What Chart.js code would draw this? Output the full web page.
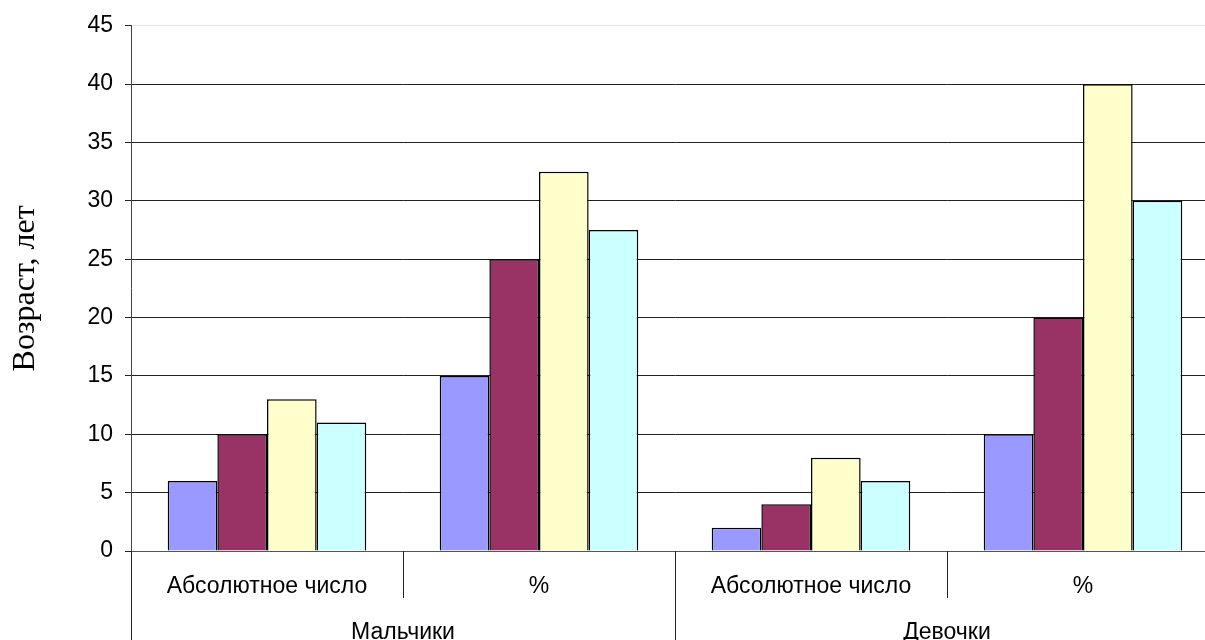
<!DOCTYPE html>
<html lang="ru">
<head>
<meta charset="utf-8">
<title>Возраст, лет</title>
<script src="https://cdn.jsdelivr.net/npm/chart.js@4.4.1/dist/chart.umd.min.js"></script>
<style>
  html, body { margin: 0; padding: 0; background: #fff; overflow: hidden; }
  #wrap { position: relative; width: 1219px; height: 640px; }
</style>
</head>
<body>
<div id="wrap"><canvas id="chart"></canvas></div>
<script>
// Inner categories and outer groups of the two-level x axis
const categories = ['Абсолютное число', '%', 'Абсолютное число', '%'];
const groups = ['Мальчики', 'Девочки'];

// Four series, one bar per category each
const series1 = [6, 15, 2, 10];
const series2 = [10, 25, 4, 20];
const series3 = [13, 32.5, 8, 40];
const series4 = [11, 27.5, 6, 30];

const yTicks = [0, 5, 10, 15, 20, 25, 30, 35, 40, 45];
const yTitle = 'Возраст, лет';

const sansFont = "'Liberation Sans', Arial, sans-serif";
const serifFont = "'Liberation Serif', 'Times New Roman', serif";

// Separator lines of the two-level category axis, placed from the x scale
const categorySeparators = {
  id: 'categorySeparators',
  afterDraw(chart) {
    const x = chart.scales.x;
    const ctx = chart.ctx;
    const n = categories.length;
    const edges = [];
    for (let i = 0; i <= n; i++) {
      if (i === 0) edges.push(x.left);
      else if (i === n) edges.push(x.right);
      else edges.push((x.getPixelForValue(i - 1) + x.getPixelForValue(i)) / 2);
    }
    const perGroup = n / groups.length;
    const top = x.top;
    const innerBottom = chart.scales.x.bottom;
    const outerBottom = chart.scales.x2.bottom;
    ctx.save();
    ctx.lineWidth = 1;
    ctx.strokeStyle = '#222';
    edges.forEach((px, i) => {
      const xx = Math.round(px) + 0.5;
      ctx.beginPath();
      ctx.moveTo(xx, top);
      ctx.lineTo(xx, i % perGroup === 0 ? outerBottom : innerBottom);
      ctx.stroke();
    });
    ctx.restore();
  }
};

new Chart(document.getElementById('chart'), {
  type: 'bar',
  data: {
    labels: categories,
    datasets: [
      { data: series1, backgroundColor: '#9999FF' },
      { data: series2, backgroundColor: '#993366' },
      { data: series3, backgroundColor: '#FFFFCC' },
      { data: series4, backgroundColor: '#CCFFFF' }
    ].map(d => Object.assign(d, {
      borderColor: '#000',
      borderWidth: 1.5,
      categoryPercentage: 0.73,
      barPercentage: 1.0
    }))
  },
  options: {
    responsive: true,
    maintainAspectRatio: false,
    animation: false,
    layout: { padding: { top: 23, right: 0, bottom: 0, left: 0 } },
    plugins: { legend: { display: false }, tooltip: { enabled: false } },
    scales: {
      x: {
        type: 'category',
        position: 'bottom',
        offset: true,
        grid: { display: false, drawTicks: false },
        border: { display: true, color: '#555', width: 1 },
        ticks: {
          color: '#000',
          font: { family: sansFont, size: 23 },
          padding: 22,
          maxRotation: 0,
          autoSkip: false
        },
        afterFit(scale) { scale.height = 47; }
      },
      x2: {
        type: 'category',
        position: 'bottom',
        labels: groups,
        offset: true,
        grid: { display: false, drawTicks: false },
        border: { display: false },
        ticks: {
          color: '#000',
          font: { family: sansFont, size: 23 },
          padding: 21,
          maxRotation: 0,
          autoSkip: false
        },
        afterFit(scale) { scale.height = 42; }
      },
      y: {
        min: yTicks[0],
        max: yTicks[yTicks.length - 1],
        afterBuildTicks(scale) { scale.ticks = yTicks.map(v => ({ value: v })); },
        grid: {
          color: c => (c.tick && c.tick.value === yTicks[yTicks.length - 1]) ? '#e4e4e4' : '#222',
          tickColor: '#222',
          tickLength: 6,
          lineWidth: 1
        },
        border: { display: true, color: '#444', width: 1 },
        ticks: {
          color: '#000',
          font: { family: sansFont, size: 23 },
          padding: 12
        },
        title: {
          display: true,
          text: yTitle,
          color: '#000',
          font: { family: serifFont, size: 32 },
          padding: { top: 6, bottom: 0 }
        },
        afterFit(scale) { scale.width = 131; }
      }
    }
  },
  plugins: [categorySeparators]
});
</script>
</body>
</html>
